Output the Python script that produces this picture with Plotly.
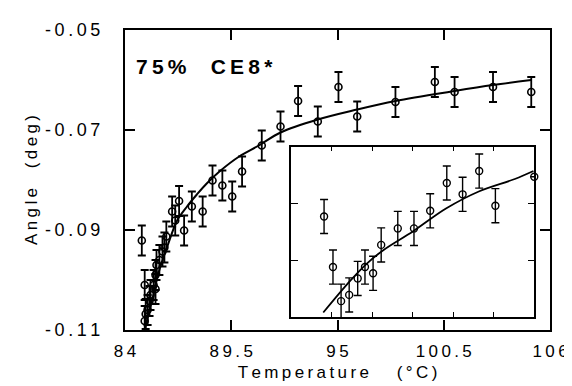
import plotly.graph_objects as go

# ---- main data ----
main_temp = [84.87, 85.02, 85.02, 85.07, 85.17, 85.27, 85.32, 85.48, 85.58, 85.58,
             85.63, 85.78, 85.94, 86.04, 86.14, 86.44, 86.60, 86.80, 87.06, 87.46,
             88.02, 88.53, 89.04, 89.55, 90.06, 91.08, 92.05, 92.96, 93.98, 95.05,
             96.02, 98.00, 100.04, 101.06, 103.05, 105.03]
main_angle = [-0.0921, -0.1010, -0.1082, -0.1068, -0.1060, -0.1042, -0.1030, -0.1010, -0.1018, -0.0990,
              -0.0970, -0.0960, -0.0943, -0.0935, -0.0913, -0.0863, -0.0881, -0.0842, -0.0901, -0.0853,
              -0.0863, -0.0801, -0.0811, -0.0833, -0.0783, -0.0731, -0.0693, -0.0642, -0.0683, -0.0614,
              -0.0673, -0.0644, -0.0604, -0.0624, -0.0614, -0.0624]
main_err = [0.003] * len(main_temp)

fit_temp = [85.02, 85.07, 85.43, 85.78, 86.19, 86.70, 87.21, 87.72, 88.23, 88.89,
            89.91, 90.93, 92.05, 93.98, 96.02, 98.00, 101.06, 103.05, 105.03]
fit_angle = [-0.1100, -0.1092, -0.1036, -0.0980, -0.0933, -0.0881, -0.0853, -0.0829, -0.0807, -0.0783,
             -0.0753, -0.0731, -0.0705, -0.0679, -0.0659, -0.0642, -0.0622, -0.0610, -0.0600]

x_ticks = [84, 89.5, 95, 100.5, 106]
x_ticklabels = ["84", "89.5", "95", "100.5", "106"]
y_ticks = [-0.05, -0.07, -0.09, -0.11]
y_ticklabels = ["-0.05", "-0.07", "-0.09", "-0.11"]

# ---- inset data (arbitrary units, no labels) ----
inset_x = [0.81, 1.03, 1.23, 1.43, 1.64, 1.82, 2.02, 2.22, 2.63, 3.03,
           3.43, 3.84, 4.23, 4.64, 5.04, 6.00]
inset_y = [1.77, 0.88, 0.28, 0.39, 0.68, 0.88, 0.77, 1.27, 1.56, 1.56,
           1.87, 2.36, 2.16, 2.57, 1.96, 2.47]
inset_err = [0.30, 0.30, 0.30, 0.30, 0.30, 0.30, 0.30, 0.30, 0.30, 0.30,
             0.30, 0.30, 0.30, 0.30, 0.30, 0.0]
inset_fit_x = [0.79, 1.47, 1.88, 2.28, 3.01, 3.82, 4.63, 5.52, 5.98]
inset_fit_y = [0.08, 0.65, 0.95, 1.18, 1.51, 1.91, 2.21, 2.43, 2.57]

title_text = "75%  CE8*"
x_title = "Temperature   (°C)"
y_title = "Angle  (deg)"

TS = "\u2009"


def spaced(s):
    return TS.join(list(s))


FONT = "Liberation Sans, Arial, sans-serif"

fig = go.Figure()

fig.add_trace(go.Scatter(
    x=fit_temp, y=fit_angle, mode="lines", line=dict(color="black", width=2, shape="spline"),
    xaxis="x", yaxis="y", showlegend=False, hoverinfo="skip"))
fig.add_trace(go.Scatter(
    x=main_temp, y=main_angle, mode="markers",
    marker=dict(symbol="circle-open", size=7, color="black", line=dict(width=1.6, color="black")),
    error_y=dict(type="data", array=main_err, color="black", thickness=1.8, width=4),
    xaxis="x", yaxis="y", showlegend=False, cliponaxis=False))

fig.add_trace(go.Scatter(
    x=inset_fit_x, y=inset_fit_y, mode="lines", line=dict(color="black", width=1.8, shape="spline"),
    xaxis="x2", yaxis="y2", showlegend=False, hoverinfo="skip", cliponaxis=False))
fig.add_trace(go.Scatter(
    x=inset_x, y=inset_y, mode="markers",
    marker=dict(symbol="circle-open", size=7, color="black", line=dict(width=1.4, color="black")),
    error_y=dict(type="data", array=inset_err, color="black", thickness=1.4, width=4),
    xaxis="x2", yaxis="y2", showlegend=False, cliponaxis=False))

axis_common = dict(showline=True, linecolor="black", mirror="ticks", ticks="inside",
                   showgrid=False, zeroline=False, tickcolor="black")

fig.update_layout(
    width=572, height=386,
    margin=dict(l=117, r=23, t=21, b=64),
    paper_bgcolor="white", plot_bgcolor="white",
    font=dict(family=FONT, color="black", size=17),
    xaxis=dict(domain=[0, 1], range=[84, 106], tickvals=x_ticks,
               ticktext=[spaced(t) for t in x_ticklabels],
               linewidth=2, ticklen=10, tickwidth=2, ticklabelstandoff=5,
               tickfont=dict(size=17, family=FONT),
               title=dict(text=spaced(x_title), font=dict(size=17, family=FONT), standoff=6),
               anchor="y", **axis_common),
    yaxis=dict(domain=[0, 1], range=[-0.11, -0.05], tickvals=y_ticks,
               ticktext=[spaced(t) for t in y_ticklabels],
               linewidth=2, ticklen=10, tickwidth=2, ticklabelstandoff=19,
               tickfont=dict(size=18, family=FONT),
               title=dict(text=spaced(y_title), font=dict(size=17, family=FONT), standoff=3),
               anchor="x", **axis_common),
    xaxis2=dict(domain=[0.3912, 0.963], range=[0, 6], tickvals=[1, 2, 3, 4, 5],
                showticklabels=False, linewidth=1.5, ticklen=5, tickwidth=1.3,
                anchor="y2", **axis_common),
    yaxis2=dict(domain=[0.0432, 0.6113], range=[0, 3], tickvals=[1, 2],
                showticklabels=False, linewidth=1.5, ticklen=7, tickwidth=1.3,
                anchor="x2", **axis_common),
    annotations=[dict(text="<b>" + spaced(title_text) + "</b>", x=0.022, y=0.878,
                      xref="paper", yref="paper", xanchor="left", yanchor="middle",
                      showarrow=False, font=dict(size=21, family=FONT, color="black"))],
)

fig.write_html("out.html")
